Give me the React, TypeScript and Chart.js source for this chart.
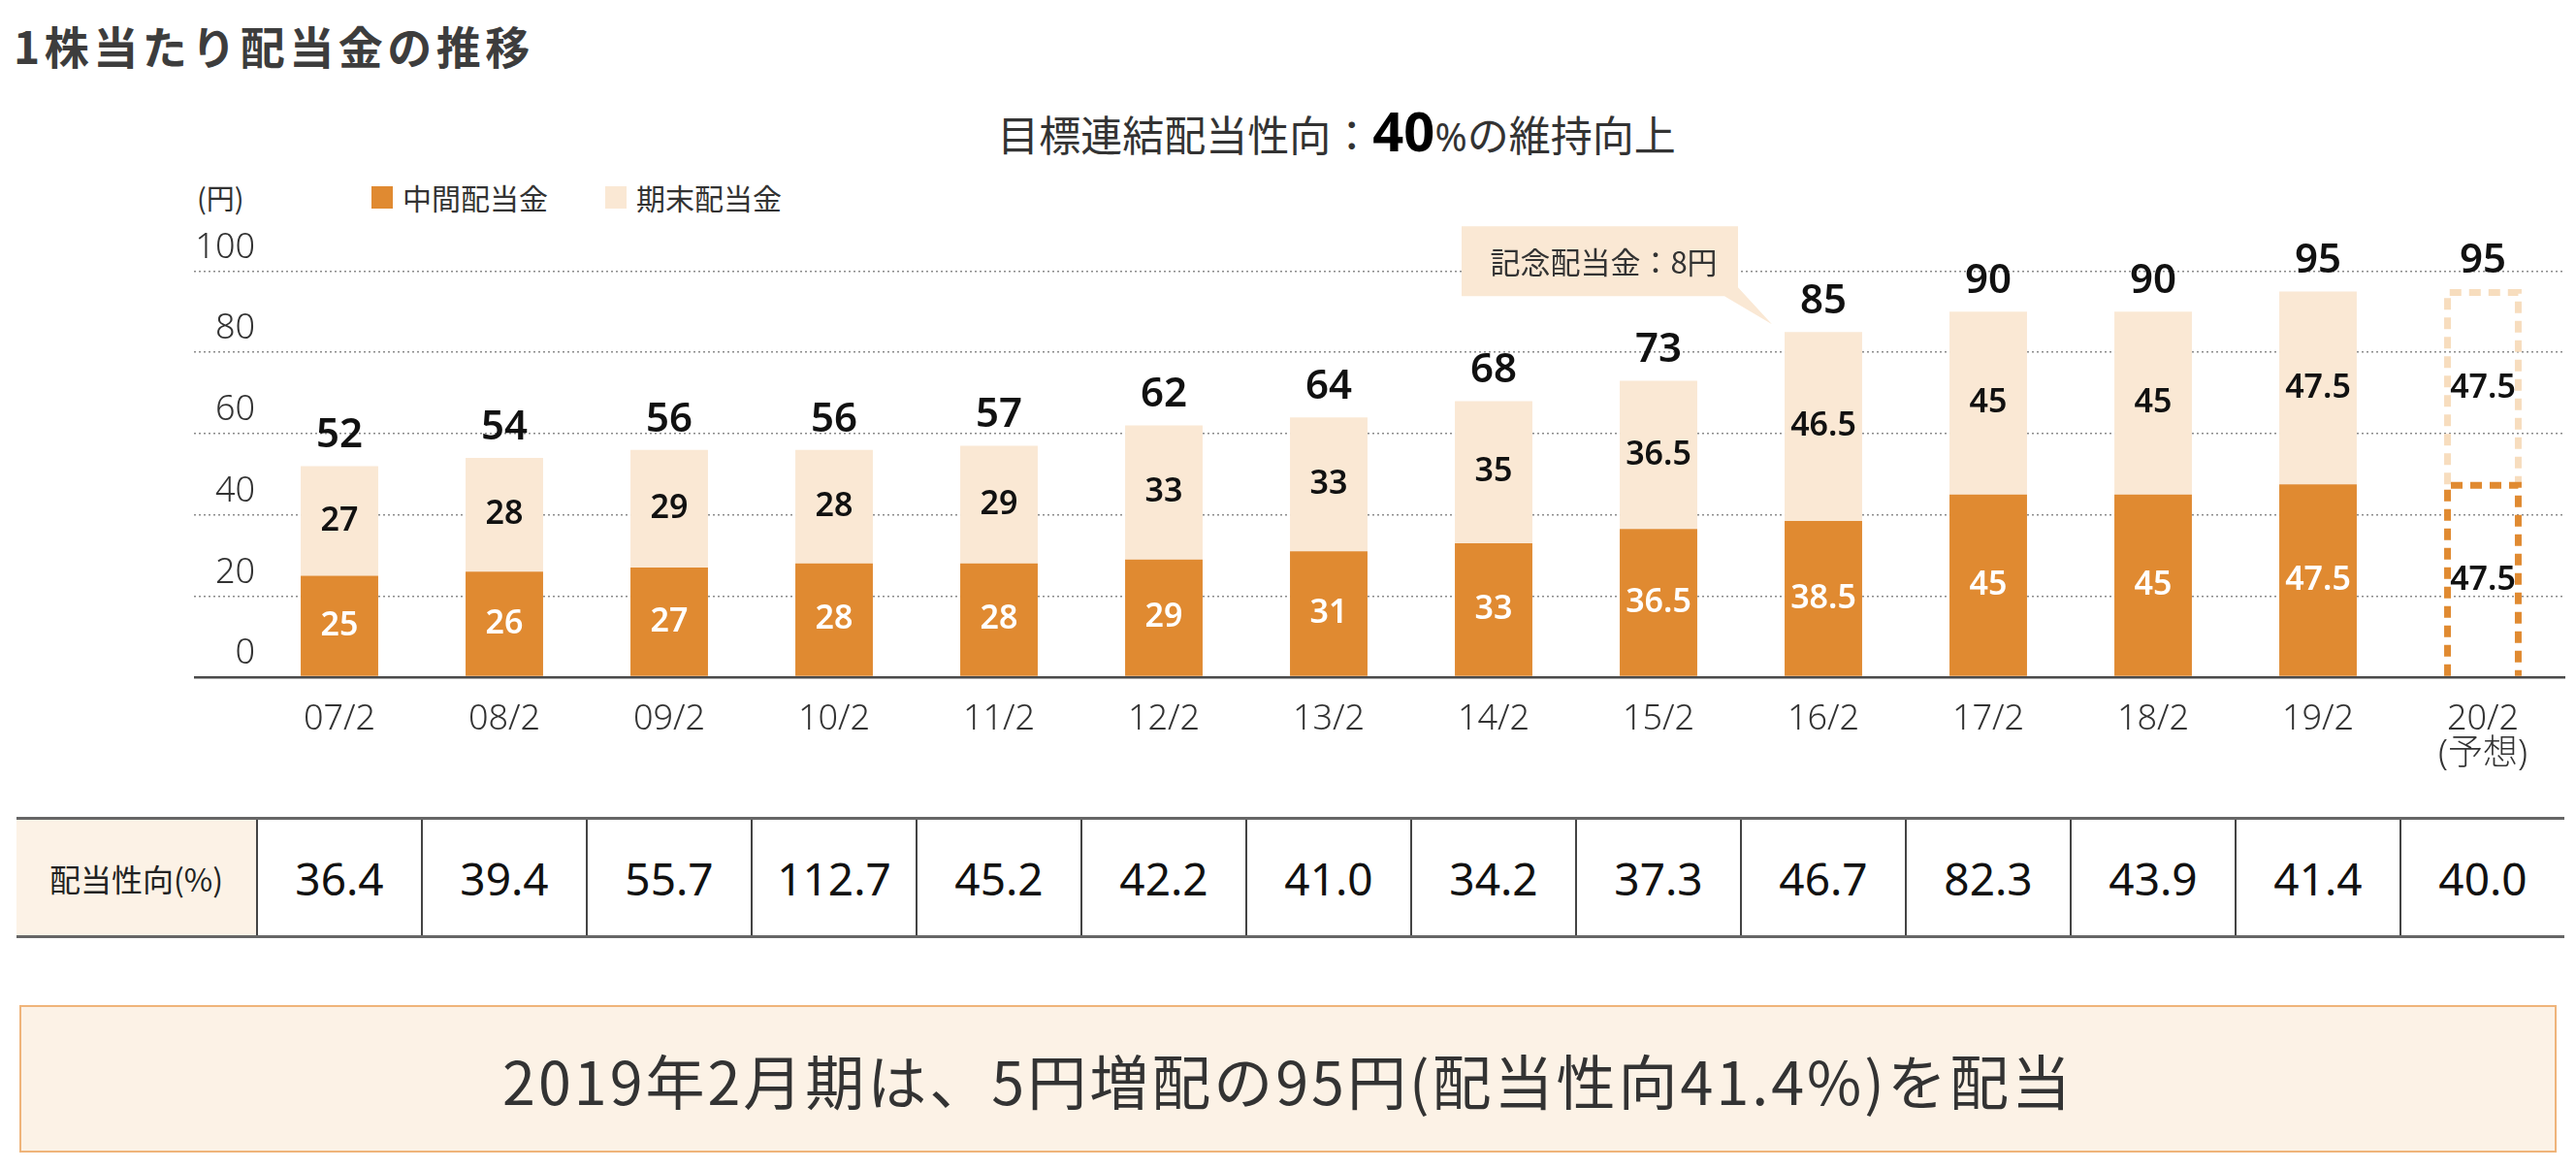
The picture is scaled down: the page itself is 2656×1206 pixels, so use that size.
import React, { useEffect, useRef } from "react";
import { Chart, registerables } from "chart.js";

Chart.register(...registerables);

// ---- data ----
const categories = ["07/2", "08/2", "09/2", "10/2", "11/2", "12/2", "13/2", "14/2", "15/2", "16/2", "17/2", "18/2", "19/2", "20/2"];
const forecastNote = "(予想)";
const interimDividend = [25, 26, 27, 28, 28, 29, 31, 33, 36.5, 38.5, 45, 45, 47.5, 47.5];
const yearEndDividend = [27, 28, 29, 28, 29, 33, 33, 35, 36.5, 46.5, 45, 45, 47.5, 47.5];
const totalDividend = [52, 54, 56, 56, 57, 62, 64, 68, 73, 85, 90, 90, 95, 95];
const payoutRatio = [36.4, 39.4, 55.7, 112.7, 45.2, 42.2, 41.0, 34.2, 37.3, 46.7, 82.3, 43.9, 41.4, 40.0];
const yTicks = [0, 20, 40, 60, 80, 100];
const forecastIndex = 13;
const commemorativeIndex = 9;
const seriesNames = ["中間配当金", "期末配当金"];
const calloutText = "記念配当金：8円";

const ORANGE = "#E08A31";
const BEIGE = "#FAE8D4";
const CJK = '"Noto Sans CJK JP", "Noto Sans", sans-serif';
const NUM = '"Noto Sans", "Noto Sans CJK JP", sans-serif';

const decorPlugin = {
  id: "decor",
  afterDatasetsDraw(chart: any) {
    const ctx = chart.ctx;
    const m0 = chart.getDatasetMeta(0);
    const m1 = chart.getDatasetMeta(1);

    // forecast dashed boxes
    const drawBox = (el: any, color: string) => {
      const { x, y, base, width } = el.getProps(["x", "y", "base", "width"], true);
      const lw = 7;
      const l = x - width / 2 + lw / 2;
      const r = x + width / 2 - lw / 2;
      const t = y + 1;
      ctx.save();
      ctx.strokeStyle = color;
      ctx.lineWidth = lw;
      ctx.setLineDash([12, 8]);
      ctx.beginPath();
      ctx.moveTo(l, base);
      ctx.lineTo(l, t);
      ctx.lineTo(r, t);
      ctx.lineTo(r, base);
      ctx.stroke();
      ctx.restore();
    };
    drawBox(m1.data[forecastIndex], "#F7DDBE");
    drawBox(m0.data[forecastIndex], ORANGE);

    ctx.save();
    ctx.textAlign = "center";
    ctx.textBaseline = "middle";
    // segment labels
    ctx.font = `600 34px ${NUM}`;
    [interimDividend, yearEndDividend].forEach((vals, d) => {
      const meta = d === 0 ? m0 : m1;
      vals.forEach((v, i) => {
        const el = meta.data[i];
        const cy = (el.y + el.base) / 2;
        ctx.fillStyle = d === 0 && i !== forecastIndex ? "#ffffff" : "#111111";
        ctx.fillText(String(v), el.x, cy);
      });
    });
    // totals
    ctx.font = `600 42px ${NUM}`;
    ctx.fillStyle = "#111111";
    totalDividend.forEach((v, i) => {
      const el = m1.data[i];
      ctx.fillText(String(v), el.x, el.y - 31);
    });
    ctx.restore();

    // callout
    const xs = chart.scales.x;
    const ys = chart.scales.y;
    const cx = xs.getPixelForValue(commemorativeIndex);
    const ty = ys.getPixelForValue(totalDividend[commemorativeIndex]);
    const L = cx - 373, R = cx - 88, T = ty - 109, B = ty - 37;
    ctx.save();
    ctx.fillStyle = BEIGE;
    ctx.beginPath();
    ctx.moveTo(L, T);
    ctx.lineTo(R, T);
    ctx.lineTo(R, ty - 46);
    ctx.lineTo(cx - 53, ty - 8);
    ctx.lineTo(cx - 102, B);
    ctx.lineTo(L, B);
    ctx.closePath();
    ctx.fill();
    ctx.fillStyle = "#333333";
    ctx.font = `400 31px ${CJK}`;
    ctx.textAlign = "center";
    ctx.textBaseline = "middle";
    ctx.fillText(calloutText, (L + R) / 2 + 4, (T + B) / 2 + 1);
    ctx.restore();
  },
};

function DividendChart() {
  const ref = useRef<HTMLCanvasElement | null>(null);
  useEffect(() => {
    if (!ref.current) return;
    const isZero = (c: any) => c.tick && c.tick.value === 0;
    const chart = new Chart(ref.current, {
      type: "bar",
      data: {
        labels: categories.map((c, i) => (i === forecastIndex ? [c, forecastNote] : c)),
        datasets: [
          {
            label: seriesNames[0],
            data: interimDividend,
            backgroundColor: categories.map((_, i) => (i === forecastIndex ? "rgba(0,0,0,0)" : ORANGE)),
            borderWidth: 0,
            barPercentage: 0.47,
            categoryPercentage: 1,
          },
          {
            label: seriesNames[1],
            data: yearEndDividend,
            backgroundColor: categories.map((_, i) => (i === forecastIndex ? "rgba(0,0,0,0)" : BEIGE)),
            borderWidth: 0,
            barPercentage: 0.47,
            categoryPercentage: 1,
          },
        ],
      },
      options: {
        responsive: false,
        maintainAspectRatio: false,
        animation: false,
        devicePixelRatio: 1,
        layout: { padding: { left: 0, right: 11, top: 179.5, bottom: 22 } },
        plugins: { legend: { display: false }, tooltip: { enabled: false } },
        scales: {
          x: {
            stacked: true,
            offset: true,
            grid: { display: false, drawTicks: false },
            border: { display: false },
            ticks: {
              autoSkip: false,
              maxRotation: 0,
              padding: 26,
              color: "#333333",
              font: { family: NUM, size: 36, weight: "300", lineHeight: 1 },
            },
            afterFit: (s: any) => {
              s.height = 100;
            },
          },
          y: {
            stacked: true,
            min: 0,
            max: 100,
            afterBuildTicks: (s: any) => {
              s.ticks = yTicks.map((v) => ({ value: v }));
            },
            grid: {
              color: (c: any) => (isZero(c) ? "#4a4a4a" : "#8c8c8c"),
              lineWidth: (c: any) => (isZero(c) ? 2.5 : 1.6),
              tickColor: (c: any) => (isZero(c) ? "#4a4a4a" : "#8c8c8c"),
              tickWidth: (c: any) => (isZero(c) ? 2.5 : 1.6),
              tickLength: 65,
              tickBorderDash: (c: any) => (isZero(c) ? [] : [2, 3]),
            },
            border: { display: false, dash: (c: any) => (isZero(c) ? [] : [2, 3]) },
            ticks: {
              padding: -63,
              labelOffset: -24,
              color: "#333333",
              font: { family: NUM, size: 36, weight: "300" },
            },
            afterFit: (s: any) => {
              s.width = 265;
            },
          },
        },
      },
      plugins: [decorPlugin],
    } as any);
    return () => chart.destroy();
  }, []);
  return (
    <canvas
      ref={ref}
      width={2656}
      height={720}
      style={{ position: "absolute", left: 0, top: 100, width: 2656, height: 720 }}
    />
  );
}

export default function App() {
  const cellW = 170;
  const tableLeft = 17;
  const headW = 247;
  return (
    <div
      style={{
        position: "absolute",
        left: 0,
        top: 0,
        width: 2656,
        height: 1206,
        background: "#ffffff",
        fontFamily: CJK,
        color: "#333",
        overflow: "hidden",
      }}
    >
      <div
        style={{
          position: "absolute",
          left: 14,
          top: 18,
          fontSize: 46,
          fontWeight: 700,
          lineHeight: "56px",
          color: "#3d3d3d",
          letterSpacing: 4.5,
          whiteSpace: "nowrap",
        }}
      >
        1株当たり配当金の推移
      </div>
      <div
        style={{
          position: "absolute",
          left: 1378,
          top: 105,
          transform: "translateX(-50%)",
          fontSize: 43,
          lineHeight: "58px",
          color: "#333",
          whiteSpace: "nowrap",
        }}
      >
        目標連結配当性向：
        <span style={{ fontFamily: NUM, fontWeight: 700, fontSize: 56, color: "#000" }}>40</span>
        <span style={{ fontFamily: NUM, fontSize: 40 }}>%</span>
        の維持向上
      </div>
      <div style={{ position: "absolute", left: 203, top: 184, fontSize: 29, lineHeight: "38px", color: "#333" }}>
        (円)
      </div>
      {seriesNames.map((name, i) => (
        <div
          key={name}
          style={{
            position: "absolute",
            left: i === 0 ? 383 : 624,
            top: 184,
            display: "flex",
            alignItems: "center",
            height: 38,
            whiteSpace: "nowrap",
          }}
        >
          <div style={{ width: 22, height: 23, background: i === 0 ? ORANGE : BEIGE, marginRight: 10 }} />
          <span style={{ fontSize: 30, color: "#333" }}>{name}</span>
        </div>
      ))}
      <DividendChart />
      {/* payout ratio table */}
      <div
        style={{
          position: "absolute",
          left: tableLeft,
          top: 842,
          width: headW + cellW * categories.length,
          height: 125,
          borderTop: "3px solid #666",
          borderBottom: "3px solid #666",
          boxSizing: "border-box",
          display: "flex",
        }}
      >
        <div
          style={{
            width: headW,
            background: "#FCF2E6",
            display: "flex",
            alignItems: "center",
            justifyContent: "center",
            fontSize: 32,
            color: "#222",
            boxSizing: "border-box",
          }}
        >
          配当性向(%)
        </div>
        {payoutRatio.map((v, i) => (
          <div
            key={i}
            style={{
              width: cellW,
              borderLeft: "2px solid #444",
              boxSizing: "border-box",
              display: "flex",
              alignItems: "center",
              justifyContent: "center",
              fontFamily: NUM,
              fontSize: 46,
              color: "#111",
            }}
          >
            {v.toFixed(1)}
          </div>
        ))}
      </div>
      {/* summary box */}
      <div
        style={{
          position: "absolute",
          left: 20,
          top: 1036,
          width: 2616,
          height: 152,
          boxSizing: "border-box",
          border: "2.5px solid #EFB47A",
          background: "#FCF2E6",
          display: "flex",
          alignItems: "center",
          justifyContent: "center",
          fontSize: 61,
          letterSpacing: 3,
          color: "#333",
          whiteSpace: "nowrap",
        }}
      >
        2019年2月期は、5円増配の95円(配当性向41.4%)を配当
      </div>
    </div>
  );
}
